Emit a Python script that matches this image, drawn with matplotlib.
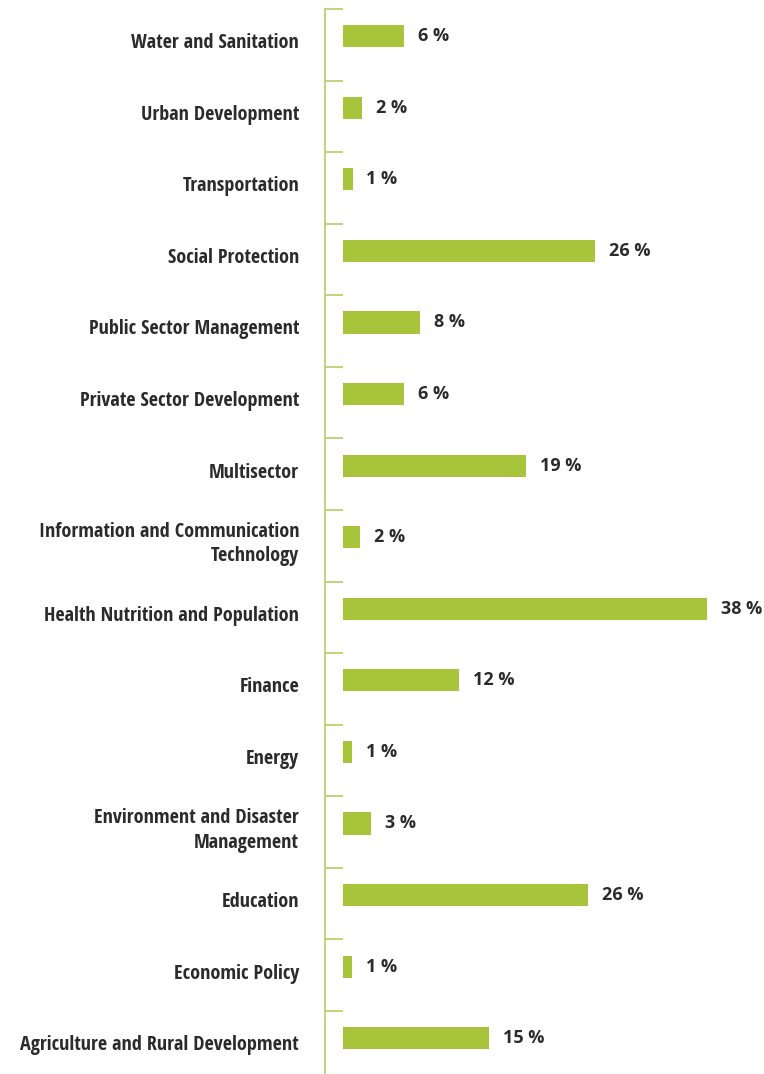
import os
import numpy as np
import matplotlib.pyplot as plt
from matplotlib import font_manager as fm
from matplotlib.ticker import FixedLocator

# Sector shares (%)
sectors = ["Water and Sanitation", "Urban Development", "Transportation",
           "Social Protection", "Public Sector Management",
           "Private Sector Development", "Multisector",
           "Information and Communication\nTechnology",
           "Health Nutrition and Population", "Finance", "Energy",
           "Environment and Disaster\nManagement", "Education",
           "Economic Policy", "Agriculture and Rural Development"]
values = [6.4, 2.0, 1.0, 26.3, 8.0, 6.4, 19.1, 1.8, 38.0, 12.1, 0.9, 2.9, 25.6, 0.9, 15.2]
value_labels = ["6 %", "2 %", "1 %", "26 %", "8 %", "6 %", "19 %", "2 %",
                "38 %", "12 %", "1 %", "3 %", "26 %", "1 %", "15 %"]

bar_color = "#a8c43a"
line_color = "#b9d36e"
text_color = "#2b2b2b"


def condensed_bold():
    # look for a narrow bold face among installed fonts
    best, best_score = None, -1
    for f in fm.fontManager.ttflist:
        key = (f.name + " " + os.path.basename(f.fname)).lower()
        if "italic" in key or "oblique" in key or f.style != "normal":
            continue
        w = f.weight if isinstance(f.weight, int) else 700
        if w < 600 or w > 750:
            continue
        narrow = ("condensed" in key or "narrow" in key
                  or f.stretch in ("condensed", "extra-condensed", "semi-condensed"))
        if not narrow:
            continue
        score = 1
        if "semi" not in key:
            score += 2
        if "dejavu" not in key:
            score += 4
        if "roboto" in key or "open" in key:
            score += 1
        if score > best_score:
            best, best_score = f.fname, score
    if best:
        return fm.FontProperties(fname=best)
    return fm.FontProperties(family="DejaVu Sans", weight="bold", stretch="condensed")


W, H = 764, 1074
fig = plt.figure(figsize=(W / 100, H / 100), dpi=100)
ax = fig.add_axes([325 / W, 0, (750 - 325) / W, (H - 9) / H])

# fit label size so the longest line is about 282 px wide, as in the original
label_font = condensed_bold()
label_font.set_size(14)
renderer = fig.canvas.get_renderer()
probe = fig.text(0, 0, "Agriculture and Rural Development", fontproperties=label_font)
width_px = probe.get_window_extent(renderer).width
probe.remove()
label_font.set_size(min(14.5, 14 * 284 / width_px))

y = np.arange(len(sectors))
ax.barh(y, values, height=0.31, color=bar_color, left=0)

ax.set_xlim(-18 / 9.58, (750 - 343) / 9.58)
ax.set_ylim(14.5, -0.38)

for s in ["top", "right", "bottom"]:
    ax.spines[s].set_visible(False)
ax.spines["left"].set_color(line_color)
ax.spines["left"].set_linewidth(1.3)

ax.set_xticks([])
ax.set_yticks([])
ax.yaxis.set_minor_locator(FixedLocator(y - 0.38))
ax.tick_params(axis="y", which="minor", direction="in", length=13,
               width=1.3, color=line_color)

for i, (name, v, lab) in enumerate(zip(sectors, values, value_labels)):
    ax.annotate(name, xy=(0, i), xycoords=("axes fraction", "data"),
                xytext=(-18.7, -5), textcoords="offset points",
                ha="right", va="center", fontproperties=label_font,
                color=text_color, linespacing=1.3)
    ax.annotate(lab, xy=(v, i), xytext=(10, 0), textcoords="offset points",
                ha="left", va="center", fontsize=13, fontweight="bold",
                family=["Open Sans", "DejaVu Sans"], color=text_color)

fig.savefig("out.png", dpi=100)
